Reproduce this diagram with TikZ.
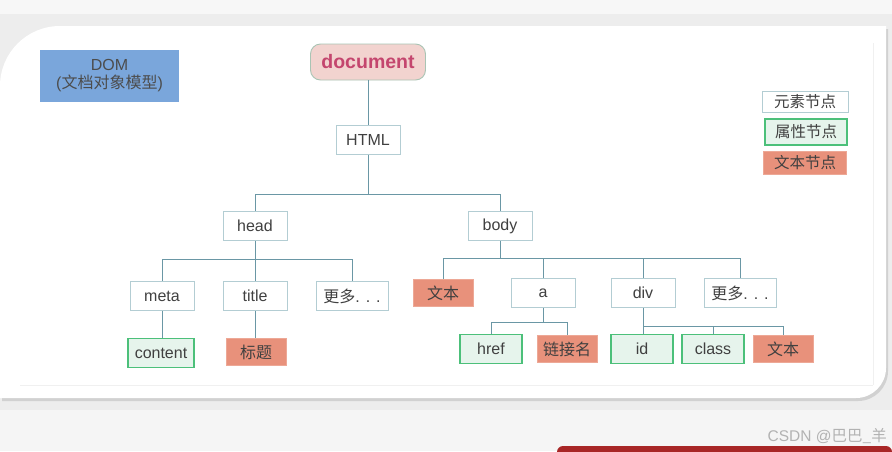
\documentclass[tikz,border=0pt]{standalone}
\usepackage{fontspec}
\setmainfont{Liberation Sans}
\newfontfamily\cjk{Noto Sans CJK SC}
\usetikzlibrary{calc,shadows}
\definecolor{linec}{HTML}{6A97A5}
\definecolor{elbd}{HTML}{B3CDD3}
\definecolor{atbd}{HTML}{4CC07A}
\definecolor{atfill}{HTML}{E6F4EC}
\definecolor{txfill}{HTML}{E8917B}
\definecolor{txbd}{HTML}{EDA896}
\definecolor{txtc}{HTML}{404040}
\definecolor{domfill}{HTML}{7AA6DB}
\definecolor{docfill}{HTML}{F2D3CF}
\definecolor{docbd}{HTML}{A9C4B4}
\definecolor{doctext}{HTML}{C4466E}
\tikzset{
  base/.style={inner sep=0pt, text=txtc, font=\fontsize{16}{18}\selectfont, minimum height=29pt},
  elem/.style={base, draw=elbd, fill=white, line width=0.9pt, minimum width=64pt},
  attr/.style={base, draw=atbd, fill=atfill, line width=1.3pt, minimum width=62pt},
  txt/.style={base, draw=txbd, fill=txfill, line width=0.6pt, minimum width=60pt, minimum height=27pt},
  conn/.style={draw=linec, line width=0.9pt},
  lgfont/.style={font=\cjk\fontsize{15.5}{17}\selectfont},
}
\begin{document}
\begin{tikzpicture}[x=1pt,y=1pt]
\useasboundingbox (0,0) rectangle (892,-451);
% background
\fill[black!7] (0,0) rectangle (892,-451);
\fill[white!97!black] (0,0) rectangle (892,-14);
\fill[white!96!black] (0,-410) rectangle (892,-451);
% card
\fill[white, drop shadow={shadow xshift=2pt, shadow yshift=-3pt, opacity=0.25}]
  (0,-398) -- (0,-86) arc[start angle=180, end angle=90, radius=60] -- (886,-26)
  -- (886,-368) arc[start angle=0, end angle=-90, radius=30] -- cycle;
\draw[black!6, line width=0.6pt] (873,-43) -- (873,-385);
\draw[black!6, line width=0.6pt] (20,-385) -- (873,-385);
% red bar
\fill[red!60!black!85, rounded corners=6pt] (557,-446) -- (892,-446) -- (892,-460) -- (557,-460) -- cycle;
% watermark
\node[text=black!30, font=\fontsize{15.5}{17}\selectfont, anchor=east, inner sep=0pt] (wm) at (887,-436) {CSDN @{\cjk 巴巴\_羊}};

% DOM title
\node[fill=domfill, minimum width=139pt, minimum height=52pt, inner sep=0pt, align=center,
  text=black!70, font=\fontsize{16}{18}\selectfont] (dom) at (109.5,-76) {DOM\\({\cjk 文档对象模型})};

% document
\node[draw=docbd, fill=docfill, rounded corners=10pt, line width=0.9pt, minimum width=115pt,
  minimum height=36pt, inner sep=0pt, text=doctext, font=\fontsize{19.5}{22}\selectfont\bfseries] (docu) at (368,-62) {document};

% tree nodes
\node[elem] (html) at (368,-140) {HTML};
\node[elem] (head) at (255,-226) {head};
\node[elem] (body) at (500,-226) {body};
\node[elem] (meta) at (162,-296) {meta};
\node[elem] (title) at (255,-296) {title};
\node[elem, minimum width=72pt] (hmore) at (352,-296) {{\cjk 更多}. . .};
\node[attr, minimum width=66pt] (content) at (161,-353) {content};
\node[txt] (biaoti) at (256,-352) {\cjk 标题};
\node[txt] (btext) at (443,-293) {\cjk 文本};
\node[elem] (a) at (543,-293) {a};
\node[elem] (div) at (643,-293) {div};
\node[elem, minimum width=72pt] (bmore) at (740,-293) {{\cjk 更多}. . .};
\node[attr] (href) at (491,-349) {href};
\node[txt] (link) at (567,-349) {\cjk 链接名};
\node[attr] (id) at (642,-349) {id};
\node[attr] (class) at (713,-349) {class};
\node[txt] (dtext) at (783,-349) {\cjk 文本};

% legend
\node[elem, minimum width=86pt, minimum height=21pt, lgfont] (lg1) at (805,-102) {元素节点};
\node[attr, minimum width=82pt, minimum height=26pt, lgfont] (lg2) at (806,-132) {属性节点};
\node[txt, minimum width=83pt, minimum height=23pt, lgfont] (lg3) at (805,-163) {文本节点};

% buses
\coordinate (b1) at (0,-194);
\coordinate (b2) at (0,-259);
\coordinate (b3) at (0,-258);
\coordinate (b4) at (0,-322);
\coordinate (b5) at (0,-326);

% connectors
\draw[conn] (docu.south) -- (html.north);
\draw[conn] (html.south) -- (html.south |- b1) -| (head.north);
\draw[conn] (html.south |- b1) -| (body.north);
\draw[conn] (head.south) -- (title.north);
\draw[conn] (head.south |- b2) -| (meta.north);
\draw[conn] (head.south |- b2) -| (hmore.north);
\draw[conn] (meta.south) -- (content.north -| meta.south);
\draw[conn] (title.south) -- (biaoti.north -| title.south);
\draw[conn] (body.south) -- (body.south |- b3) -| (btext.north);
\draw[conn] (body.south |- b3) -| (bmore.north);
\draw[conn] (a.north) |- (body.south |- b3);
\draw[conn] (div.north) |- (body.south |- b3);
\draw[conn] (a.south) -- (a.south |- b4) -| (href.north);
\draw[conn] (a.south |- b4) -| (link.north);
\draw[conn] (div.south) -- (id.north -| div.south);
\draw[conn] (div.south |- b5) -| (class.north);
\draw[conn] (div.south |- b5) -| (dtext.north);
\end{tikzpicture}
\end{document}
